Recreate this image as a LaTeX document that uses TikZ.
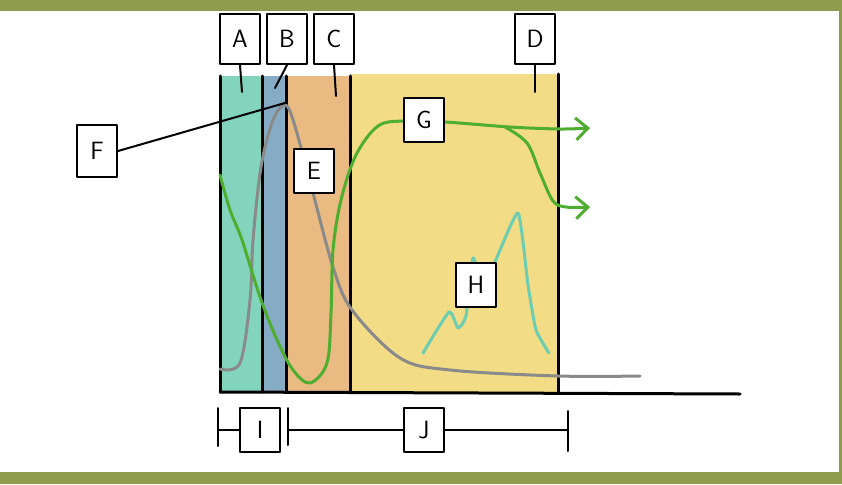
\documentclass[tikz,border=0pt]{standalone}
\usetikzlibrary{arrows.meta}
\definecolor{frameolive}{HTML}{8F9C4E}
\definecolor{zoneA}{HTML}{82D4BC}
\definecolor{zoneB}{HTML}{85ABC5}
\definecolor{zoneC}{HTML}{E9BA82}
\definecolor{zoneD}{HTML}{F2DC86}
\definecolor{curvegreen}{HTML}{4FAE2F}
\definecolor{curvegray}{HTML}{8A8A8A}
\definecolor{peakteal}{HTML}{6CCDB0}

\tikzset{
  tag/.style={draw=black, line width=2pt, fill=white, minimum width=40pt, minimum height=44pt,
    inner sep=0pt, font=\sffamily\fontsize{25}{25}\selectfont},
  tall/.style={minimum height=50pt},
}

\begin{document}
\begin{tikzpicture}[x=1pt, y=-1pt, >={Straight Barb[length=12pt,width=22pt]}, line cap=round, line join=round]

    \useasboundingbox (0,0) rectangle (842,484);

    % draw the olive frame along the top, bottom and right:
    \fill[frameolive] (0,0) rectangle (842,11);
    \fill[frameolive] (0,472) rectangle (842,484);
    \fill[frameolive] (839,0) rectangle (842,484);

    % draw the coloured zones:
    \fill[zoneA] (220,76) rectangle (262,392);
    \fill[zoneB] (262,76) rectangle (286,392);
    \fill[zoneC] (286,76) rectangle (350,392);
    \fill[zoneD] (350,74) rectangle (558,392);

    % draw the walls between the zones and the base line:
    \draw[line width=3pt] (220,76) -- (220,392);
    \draw[line width=3pt] (262,76) -- (262,392);
    \draw[line width=3pt] (286,76) -- (286,392);
    \draw[line width=3pt] (350,76) -- (350,392);
    \draw[line width=3pt] (558,74) -- (558,392);
    \draw[line width=3pt] (220,392) -- (740,394);

    % draw the teal peaks in the last zone:
    \draw[peakteal, line width=3pt] plot[smooth, tension=0.3] coordinates {(423,353) (449,312) (458,328) (466,316) (473,258) (482,282) (494,264) (518,213) (528,285) (536,330) (549,353)};

    % draw the grey curve with its sharp peak:
    \draw[curvegray, line width=3pt] plot[smooth, tension=0.55] coordinates {(220,369) (240,363) (250,300) (253,240) (261,167) (273,120) (285,105) (294,123) (313,193) (333,267) (352,310) (400,358) (450,370) (558,376) (640,376)};

    % draw the green curve and its two outgoing arrows:
    \draw[->, curvegreen, line width=3pt] plot[smooth, tension=0.55] coordinates {(220,175) (230,210) (242,240) (260,297) (277,340) (293,370) (310,383) (327,363) (331,313) (333,250) (341,200) (356,155) (378,126) (404,121) (445,122) (510,127) (560,129) (590,128)};
    \draw[->, curvegreen, line width=3pt] plot[smooth, tension=0.55] coordinates {(505,127) (527,143) (540,173) (553,201) (566,207) (590,207)};

    % the label boxes:
    \node[tag, tall] (A) at (240,39) {A};
    \node[tag, tall] (B) at (287,39) {B};
    \node[tag, tall] (C) at (334,39) {C};
    \node[tag, tall] (D) at (535,39) {D};
    \node[tag, minimum height=52pt] (F) at (97,151) {F};
    \node[tag] (E) at (314,171) {E};
    \node[tag] (G) at (424,120) {G};
    \node[tag] (H) at (476,285) {H};
    \node[tag] (I) at (260,430) {I};
    \node[tag] (J) at (424,430) {J};

    % short ticks from the top boxes into the zones:
    \coordinate (Aend) at (242,92);
    \coordinate (Bend) at (275,88);
    \coordinate (Cend) at (336,96);
    \coordinate (Dend) at (535,92);
    \coordinate (peak) at (285,103);
    \draw[line width=2pt] (A.south) -- (Aend);
    \draw[line width=2pt] (B.south) -- (Bend);
    \draw[line width=2pt] (C.south) -- (Cend);
    \draw[line width=2pt] (D.south) -- (Dend);
    \draw[line width=2pt] (F.east) -- (peak);

    % draw the two spans under the base line:
    \coordinate (Ileft) at (218,430);
    \coordinate (Jleft) at (288,430);
    \coordinate (Jright) at (568,430);
    \draw[line width=2pt] (218,408) -- (218,446);
    \draw[line width=2pt] (288,408) -- (288,445);
    \draw[line width=2pt] (568,411) -- (568,451);
    \draw[line width=1.5pt] (Ileft) -- (I.west);
    \draw[line width=1.5pt] (Jleft) -- (J.west);
    \draw[line width=1.5pt] (J.east) -- (Jright);

\end{tikzpicture}
\end{document}
